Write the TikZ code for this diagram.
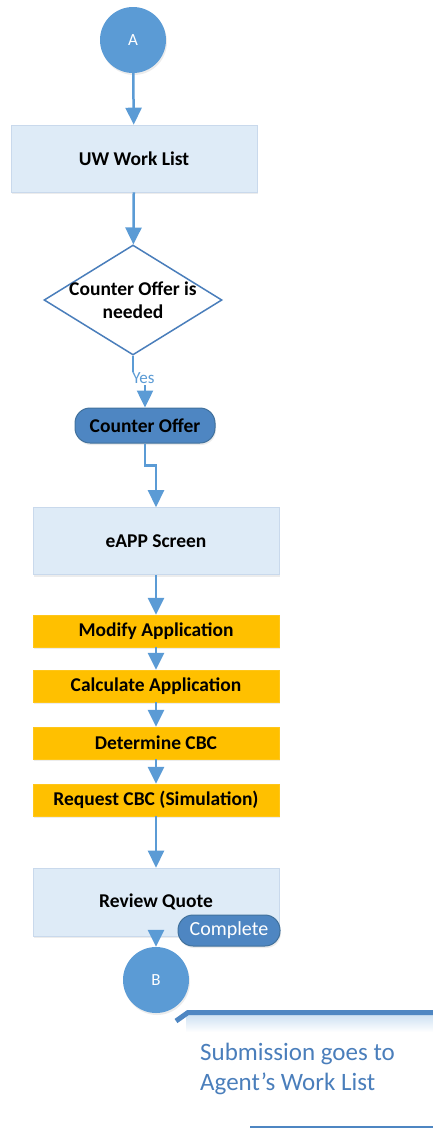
\documentclass[tikz,border=0pt]{standalone}
\usepackage{fontspec}
\setmainfont{Carlito}
\usetikzlibrary{arrows.meta,shapes.geometric,shadows}
\definecolor{cblue}{HTML}{5B9BD5}
\definecolor{pillblue}{HTML}{4E86C2}
\definecolor{pillborder}{HTML}{41719C}
\definecolor{lightbox}{HTML}{DEEBF7}
\definecolor{boxborder}{HTML}{C9D9EC}
\definecolor{gold}{HTML}{FFC000}
\definecolor{txtblue}{HTML}{4A7EBB}
\definecolor{diaborder}{HTML}{4A7EBB}
\tikzset{
  shd/.style={drop shadow={shadow xshift=1pt, shadow yshift=-2pt, opacity=0.15, fill=gray}},
  circ/.style={circle, fill=cblue, minimum size=66pt, inner sep=0pt, text=white, font=\fontsize{17}{20}\selectfont, shd},
  lbox/.style={rectangle, fill=lightbox, draw=boxborder, line width=0.6pt, minimum width=246pt, minimum height=67pt, inner sep=0pt, font=\fontsize{19.5}{23}\selectfont\bfseries, shd},
  gbox/.style={rectangle, fill=gold, draw=gold!90!white, minimum width=246pt, minimum height=32pt, inner sep=0pt, font=\fontsize{19.5}{23}\selectfont\bfseries, shd},
  dia/.style={diamond, draw=diaborder, line width=1.5pt, fill=white, minimum width=178pt, minimum height=110pt, inner sep=0pt},
  pill/.style={rectangle, rounded corners=15pt, fill=pillblue, draw=pillborder, line width=1pt, inner sep=0pt, shd},
  conn/.style={draw=cblue, line width=2.5pt, -{Triangle[width=16pt,length=17pt]}},
  lbl/.style={font=\fontsize{19.5}{23}\selectfont\bfseries, align=center},
}
\begin{document}
\begin{tikzpicture}[x=1pt,y=-1pt]
\useasboundingbox (0,0) rectangle (433,1130);

% nodes
\node[circ] (A) at (133,40) {A};
\node[lbox] (uw) at (134,158.5) {UW Work List};
\node[dia] (dec) at (133,300) {};
\node[lbl] (dectext) at (133,300) {Counter Offer is\\needed};
\node[pill, minimum width=140pt, minimum height=35pt, font=\fontsize{19.5}{23}\selectfont\bfseries] (co) at (145,425.5) {Counter Offer};
\node[lbox] (eapp) at (156,541) {eAPP Screen};
\node[gbox] (mod) at (156,631) {Modify Application};
\node[gbox] (calc) at (156,686) {Calculate Application};
\node[gbox] (det) at (156,743) {Determine CBC};
\node[gbox] (req) at (156,800) {Request CBC (Simulation)};
\node[lbox, minimum height=68pt] (rev) at (156,902) {Review Quote};
\node[circ] (B) at (156,980) {B};

% connectors
\draw[conn] (A) -- (uw);
\draw[conn] (uw) -- (dec);
\draw[conn] (dec.south) -- ++(0,23) -| (co.north);
\node[fill=white, inner sep=1pt, text=cblue, font=\fontsize{17}{20}\selectfont] (yes) at (143.5,378.5) {Yes};
\draw[conn] (co.south) -- ++(0,22) -| (eapp.north);
\draw[conn] (eapp) -- (mod);
\draw[conn] (mod) -- (calc);
\draw[conn] (calc) -- (det);
\draw[conn] (det) -- (req);
\draw[conn] (req) -- (rev);
\draw[conn] (rev) -- (B);

\node[pill, minimum width=102pt, minimum height=31pt, text=white, font=\fontsize{20}{23}\selectfont] (comp) at (229,930.5) {Complete};

% callout
\shade[top color=cblue!30, bottom color=white] (186,1015) rectangle (433,1032);
\draw[pillblue, line width=5pt, line join=miter] (176,1021) -- (188,1012.5) -- (433,1012.5);
\node[anchor=north west, align=left, text=txtblue, inner sep=0pt, font=\fontsize{25}{30}\selectfont] (sub) at (200,1043) {Submission goes to\\Agent’s Work List};
\draw[pillblue, line width=2.5pt] (250,1127) -- (433,1127);
\end{tikzpicture}
\end{document}
